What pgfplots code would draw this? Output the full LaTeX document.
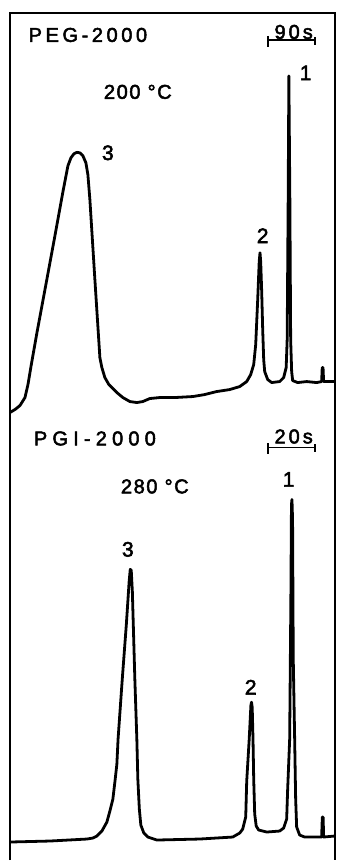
\documentclass[border=0pt]{standalone}
\usepackage{fontspec}
\setmainfont{Liberation Sans}[FakeBold=2.5]
\newfontfamily\namefontA[LetterSpace=18,FakeBold=2.5]{Liberation Sans}
\newfontfamily\namefontB[LetterSpace=26,FakeBold=2.5]{Liberation Sans}
\newfontfamily\tempfont[LetterSpace=8,FakeBold=2.5]{Liberation Sans}
\newfontfamily\secfont[LetterSpace=15,FakeBold=2.5]{Liberation Sans}
\usepackage{pgfplots}
\pgfplotsset{compat=1.18}
\begin{document}
\begin{tikzpicture}
\begin{axis}[width=337pt,height=861pt,scale only axis,
  xmin=0,xmax=337,ymin=0,ymax=861,y dir=reverse,
  axis line style={draw=none},ticks=none,clip=false]
% frame
\addplot[black,line width=2pt,mark=none] coordinates {(10,861)(10,13)(335,13)(335,861)};
% PEG-2000 chromatogram
\addplot[black,line width=2.8pt,line join=round,mark=none] coordinates {
(10,413)(15,410)(20,406)(25,398)(28,385)(31,367)(37,333)(45,290)(55,236)(63,192)(68,166)
(71,158)(74,154)(77,152.5)(80,153)(83,156)(86,163)(88,175)(90,200)(95,280)(100,358)
(102,368)(105,378)(109,385)(113,389)(117,393)(123,398)(130,402)(137,403)(143,402)(150,399)
(160,398)(175,398)(193,397)(205,395)(217,392)(230,390)(240,387)(247,382)(251,375)(254,365)
(256,345)(258,300)(259.5,262)(260.3,253)(261,262)(262,292)(263,330)(264,360)(265,372)
(268,380)(272,383)(280,382)(284,378)(286.5,368)(287.5,340)(288.5,200)(289.2,76)(290.2,200)
(291,340)(292,372)(293,381)(298,383)(307,382)(317,383)(322,382)(322.6,368)(323.4,368)
(324,382)(335,382)};
% PGI-2000 chromatogram
\addplot[black,line width=2.8pt,line join=round,mark=none] coordinates {
(10,843)(50,842)(87,840)(93,839)(97,837)(102,832)(107,823)(110,812)(113,800)(115,783)
(117,765)(118.2,740)(122.4,680)(126.5,625)(129.3,582)(130.4,570)(131.4,571)(132.5,592)
(135,680)(137,740)(138,780)(139.5,810)(141,826)(144,834)(148,838)(157,841)(200,840)
(233,838)(240,834)(243,830)(246,818)(247,782)(249.5,740)(251.2,706)(251.8,703)(252.5,708)
(253.3,740)(254,780)(255,815)(256.5,827)(259,831)(267,833)(280,832)(284,829)(287,820)
(288,790)(289,765)(290,740)(291.2,600)(291.8,505)(292.3,500)(292.9,520)(293.6,660)
(295,740)(296,800)(297,828)(300,836)(305,838)(322,838)(322.7,818)(323.5,818)(324,838)(335,837)};
% scale bars
\addplot[black,line width=1.8pt,mark=none] coordinates {(268,40)(315,40)};
\addplot[black,line width=1.8pt,mark=none] coordinates {(268,36)(268,47)};
\addplot[black,line width=1.8pt,mark=none] coordinates {(315,37)(315,45)};
\addplot[black,line width=1.8pt,mark=none] coordinates {(268,448)(315,448)};
\addplot[black,line width=1.8pt,mark=none] coordinates {(268,444)(268,455)};
\addplot[black,line width=1.8pt,mark=none] coordinates {(315,445)(315,453)};
% texts
\node[inner sep=0,anchor=center] at (axis cs:88,35) {\fontsize{20}{20}\selectfont\namefontA PEG-2000};
\node[inner sep=0,anchor=center] at (axis cs:138,92) {\fontsize{20}{20}\selectfont\tempfont 200 °C};
\node[inner sep=0,anchor=center] at (axis cs:294,32) {\fontsize{20}{20}\selectfont\secfont 90s};
\node[inner sep=0,anchor=center] at (axis cs:95,439) {\fontsize{20}{20}\selectfont\namefontB PGI-2000};
\node[inner sep=0,anchor=center] at (axis cs:155,487) {\fontsize{20}{20}\selectfont\tempfont 280 °C};
\node[inner sep=0,anchor=center] at (axis cs:294,437) {\fontsize{20}{20}\selectfont\secfont 20s};
\node[inner sep=0,anchor=center] at (axis cs:306,73) {\fontsize{21}{21}\selectfont 1};
\node[inner sep=0,anchor=center] at (axis cs:263,236) {\fontsize{21}{21}\selectfont 2};
\node[inner sep=0,anchor=center] at (axis cs:108,153) {\fontsize{21}{21}\selectfont 3};
\node[inner sep=0,anchor=center] at (axis cs:289,480) {\fontsize{21}{21}\selectfont 1};
\node[inner sep=0,anchor=center] at (axis cs:251,688) {\fontsize{21}{21}\selectfont 2};
\node[inner sep=0,anchor=center] at (axis cs:128,550) {\fontsize{21}{21}\selectfont 3};
\end{axis}
\end{tikzpicture}
\end{document}
